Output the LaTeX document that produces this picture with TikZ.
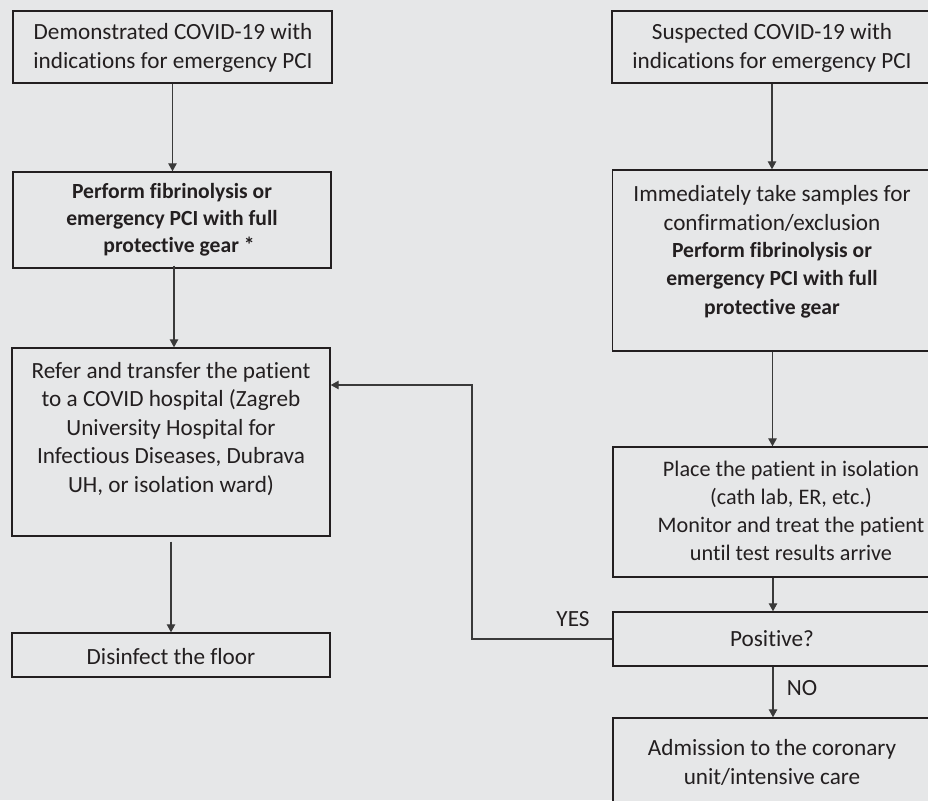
\documentclass[tikz,border=0pt]{standalone}
\usepackage{fontspec}
\setmainfont{Carlito}[Ligatures={NoCommon}]
\usetikzlibrary{arrows.meta,calc}
\definecolor{bgc}{HTML}{E6E7E8}
\definecolor{ink}{HTML}{231F20}
\definecolor{linec}{HTML}{3A3A3A}
\tikzset{
  box/.style={draw=ink, line width=1.4pt, fill=bgc, inner sep=0pt},
  txt/.style={text=ink, align=center, inner sep=0pt, font=\fontsize{23.2}{29}\selectfont},
  btxt/.style={text=ink, align=center, inner sep=0pt, font=\fontsize{21.6}{27}\selectfont\bfseries},
  arr/.style={draw=linec, line width=1.1pt, -{Triangle[length=8pt,width=8.5pt]}},
  lbl/.style={text=ink, inner sep=0pt, font=\fontsize{23.2}{27}\selectfont}
}
\begin{document}
\begin{tikzpicture}[x=1pt,y=-1pt]
\useasboundingbox (0,0) rectangle (928,800);
\clip (0,0) rectangle (928,800);
\fill[bgc] (0,0) rectangle (928,800);
% left column boxes
\node[box, minimum width=319pt, minimum height=72pt] (l1) at (172.5,47) {};
\node[box, minimum width=318pt, minimum height=96pt] (l2) at (172,220) {};
\node[box, minimum width=318pt, minimum height=188pt] (l3) at (171,442) {};
\node[box, minimum width=318pt, minimum height=44pt] (l4) at (171,655) {};
% right column boxes
\node[box, minimum width=320pt, minimum height=72pt] (r1) at (772,47) {};
\node[box, minimum width=320pt, minimum height=181pt] (r2) at (772.5,260.5) {};
\node[box, minimum width=320pt, minimum height=130pt] (r3) at (773,512) {};
\node[box, minimum width=320pt, minimum height=54pt] (r4) at (773,639) {};
\node[box, minimum width=320pt, minimum height=92pt] (r5) at (773,764) {};
% texts
\node[txt] (t1) at (173,47.5) {Demonstrated COVID-19 with\\indications for emergency PCI};
\node[btxt] (t2) at (172,220) {Perform fibrinolysis or\\emergency PCI with full\\\hspace*{14pt}protective gear *};
\node[txt, font=\fontsize{23.2}{28.5}\selectfont] (t3) at (171,429) {Refer and transfer the patient\\to a COVID hospital (Zagreb\\University Hospital for\\Infectious Diseases, Dubrava\\UH, or isolation ward)};
\node[txt] (t4) at (171,657) {Disinfect the floor};
\node[txt] (t5) at (772,47.5) {Suspected COVID-19 with\\indications for emergency PCI};
\node[txt] (t6a) at (772,208) {Immediately take samples for\\confirmation/exclusion};
\node[btxt, font=\fontsize{21.6}{28.5}\selectfont\bfseries] (t6b) at (772,280) {Perform fibrinolysis or\\emergency PCI with full\\protective gear};
\node[txt, font=\fontsize{22.2}{28}\selectfont] (t7) at (791,511) {Place the patient in isolation\\(cath lab, ER, etc.)\\Monitor and treat the patient\\until test results arrive};
\node[txt] (t8) at (772,639) {Positive?};
\node[txt] (t9) at (772,762.5) {Admission to the coronary\\unit/intensive care};
% connectors
\draw[arr] (l1.south) -- (l1.south |- l2.north);
\draw[arr] ([xshift=2pt,yshift=3pt]l2.south) -- ([xshift=2pt]l2.south |- l3.north);
\draw[arr, shorten <=5pt] (l3.south) -- (l3.south |- l4.north);
\draw[arr] (r1.south) -- (r1.south |- r2.north);
\draw[arr] (r2.south) -- (r2.south |- r3.north);
\draw[arr] (r3.south) -- (r3.south |- r4.north);
\draw[arr] (r4.south) -- (r4.south |- r5.north);
\coordinate (fb) at (472,385);
\draw[arr] (r4.west) -| (fb) -- (fb -| l3.east);
% labels
\node[lbl] (yes) at (573,619) {YES};
\node[lbl] (no) at (802,688) {NO};
\end{tikzpicture}
\end{document}
